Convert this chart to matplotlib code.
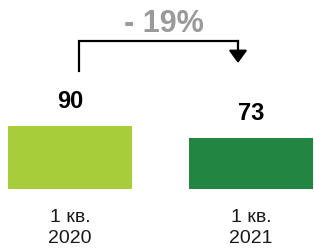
import matplotlib
matplotlib.use('Agg')
import matplotlib.pyplot as plt

# data
categories = ['1 кв.\n2020', '1 кв.\n2021']
values = [90, 73]
bar_colors = ['#a8cd3b', '#238542']
change_label = '- 19%'

plt.rcParams['font.family'] = ['Liberation Sans', 'DejaVu Sans']

fig = plt.figure(figsize=(3.14, 2.48), dpi=100)
ax = fig.add_axes([0, 0, 1, 1])
ax.set_xlim(-0.387, 1.348)
ax.set_ylim(-84.3, 270)
ax.axis('off')

x = list(range(len(values)))
ax.bar(x, values, width=0.685, color=bar_colors)

# value labels
for xi, v in zip(x, values):
    ax.annotate(str(v), (xi, v), xytext=(0, 13), textcoords='offset points',
                ha='center', va='baseline', fontsize=17, fontweight='bold')

# category labels
for xi, c in zip(x, categories):
    ax.text(xi, -28, c, ha='center', va='top', fontsize=14, linespacing=1.35,
            color='#1a1a1a')

# bracket with arrow
ax.plot([0.05, 0.05, 0.928], [168.6, 211, 211], color='black', lw=1.6,
        solid_joinstyle='miter')
ax.annotate('', xy=(0.928, 180), xytext=(0.928, 211.5),
            arrowprops=dict(arrowstyle='-|>,head_length=0.75,head_width=0.55',
                            color='black', lw=1.6, shrinkA=0, shrinkB=0))
ax.text(0.519, 224.3, change_label, ha='center', va='baseline', fontsize=22,
        fontweight='bold', color='#9a9a9a')

fig.savefig('out.png', dpi=100)
